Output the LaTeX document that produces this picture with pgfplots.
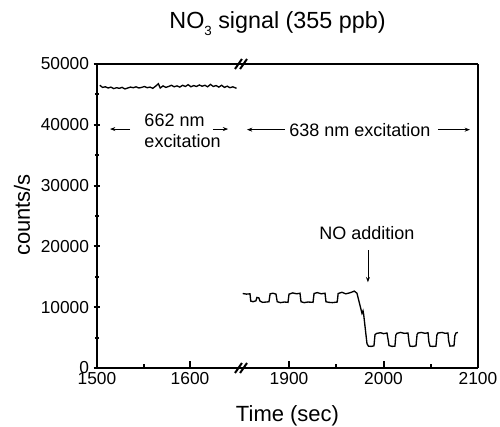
\documentclass[border=0pt]{standalone}
\usepackage{pgfplots}
\pgfplotsset{compat=1.18}
\usetikzlibrary{arrows.meta}
\usepackage{fontspec}
\setmainfont{Liberation Sans}

\newcommand\tickfont{\fontsize{13}{15}\selectfont}
\newcommand\annot{\fontsize{13.5}{16}\selectfont}
\newcommand\labfont{\fontsize{16.5}{19}\selectfont}

\tikzset{ann/.style={-{Stealth[length=4pt,width=3pt]}, line width=0.6pt}}

\begin{document}
\begin{tikzpicture}
\useasboundingbox (-72.75pt,-44.25pt) rectangle (302.25pt,276pt);
\pgfplotsset{
  brk/.style={
    scale only axis, height=228pt, ymin=0, ymax=50000,
    axis x line=box, xtick pos=bottom, tick align=inside,
    axis line style={-, line width=1.8pt},
    major tick length=5pt, minor tick length=3pt,
    every tick/.style={black, line width=1.5pt},
    ticklabel style={font=\tickfont},
    scaled ticks=false,
    /pgf/number format/assume math mode=true,
    /pgf/number format/set thousands separator={},
    clip=false,
  },
  sig/.style={black, line width=1pt, no marks},
}

% left part of the broken time axis
\begin{axis}[brk, name=L, at={(0pt,0pt)}, anchor=south west, width=105.75pt,
  xmin=1500, xmax=1651.6, xtick={1500,1600}, minor xtick={1550},
  axis y line=left, y axis line style={-},
  ytick={0,10000,20000,30000,40000,50000},
  minor ytick={5000,15000,25000,35000,45000}]
\addplot[sig] coordinates {
(1503,46500)(1506,46150)(1509,46250)(1512,46050)(1515,46200)(1518,45950)
(1521,46100)(1524,46000)(1527,46150)(1530,45900)(1533,46050)(1536,46200)
(1539,46100)(1542,46250)(1545,46050)(1548,46150)(1551,46300)(1554,46100)
(1557,46200)(1560,46000)(1563,46350)(1566,46750)(1568,46050)(1571,46400)
(1574,46150)(1577,46300)(1580,46500)(1583,46250)(1586,46400)(1589,46200)
(1592,46500)(1595,46300)(1598,46600)(1601,46250)(1604,46450)(1607,46300)
(1610,46550)(1613,46350)(1616,46500)(1619,46250)(1622,46650)(1625,46300)
(1628,46450)(1631,46200)(1634,46500)(1637,46150)(1640,46350)(1643,46100)
(1646,46250)(1650,46000)
};
\node[anchor=west, align=left, font=\annot] at (axis cs:1546,39000) {662 nm\\excitation};
\draw[ann] (axis cs:1535.5,39300) -- (axis cs:1514,39300);
\draw[ann] (axis cs:1624.7,39300) -- (axis cs:1641,39300);
\end{axis}

% right part of the broken time axis
\begin{axis}[brk, name=R, at={(105.75pt,0pt)}, anchor=south west, width=180pt,
  xmin=1846, xmax=2100, xtick={1900,2000,2100}, minor xtick={1950,2050},
  axis y line=right, y axis line style={-}, ytick=\empty]
\addplot[sig] coordinates {
(1851,12250)(1855,12150)(1858.7,12200)(1859.5,11000)(1862,10900)(1865,11050)
(1866,11600)(1868,11550)(1869.3,11000)(1872,10800)(1876,10850)(1878.8,10900)
(1880,12200)(1883,12300)(1886.2,12150)(1887.5,10900)(1891,10750)(1895,10850)
(1898.9,10800)(1900,12150)(1904,12350)(1908,12200)(1911.6,12300)(1912.7,10900)
(1916,10750)(1920,10850)(1925.4,10800)(1926.5,12250)(1930,12400)(1934,12200)
(1938.1,12300)(1939.1,10900)(1942,10800)(1946,10750)(1951,10850)(1952,12250)
(1956,12450)(1960,12200)(1964,12350)(1967.7,12550)(1969,12650)(1971.9,12300)
(1977.2,9000)(1978.3,9400)(1979,8800)(1982.5,4000)(1984,3600)(1987,3550)
(1989.9,3650)(1991,5500)(1993,5700)(1997,5800)(2000,5650)(2003.7,5750)
(2005,4500)(2005.8,3700)(2009,3550)(2012.1,3600)(2013,5400)(2014.3,5700)
(2018,5850)(2022,5700)(2025.9,5750)(2027,4200)(2028,3600)(2031,3550)
(2034.4,3650)(2035.5,5500)(2036.5,5750)(2040,5850)(2044,5700)(2047.1,5800)
(2048,4300)(2049.2,3600)(2052,3550)(2055.5,3600)(2056.5,5400)(2057.6,5750)
(2062,5850)(2065,5700)(2068.2,5750)(2069,4400)(2070.3,3600)(2074.6,3650)
(2075.5,5300)(2076.7,5750)(2078.8,5850)
};
\node[font=\annot] at (axis cs:1975,39100) {638 nm excitation};
\draw[ann] (axis cs:1895.7,39200) -- (axis cs:1855.5,39200);
\draw[ann] (axis cs:2057.6,39200) -- (axis cs:2091.5,39200);
\node[font=\annot] at (axis cs:1982.5,22200) {NO addition};
\draw[ann] (axis cs:1983.5,19400) -- (axis cs:1983.5,14100);
\end{axis}

% break marks
\foreach \yy in {0,228} {
  \draw[line width=1.5pt] (103.5pt,{(\yy-3.75)*1pt}) -- (108.7pt,{(\yy+3.75)*1pt});
  \draw[line width=1.5pt] (107.3pt,{(\yy-3.75)*1pt}) -- (112.5pt,{(\yy+3.75)*1pt});
}

\node[font=\fontsize{17.5}{20}\selectfont] at (135.4pt,258pt) {NO\raisebox{-0.55ex}{\fontsize{10}{12}\selectfont 3} signal (355 ppb)};
\node[font=\labfont] at (142.9pt,-36pt) {Time (sec)};
\node[font=\labfont, rotate=90] at (-56.25pt,114.75pt) {counts/s};
\end{tikzpicture}
\end{document}
